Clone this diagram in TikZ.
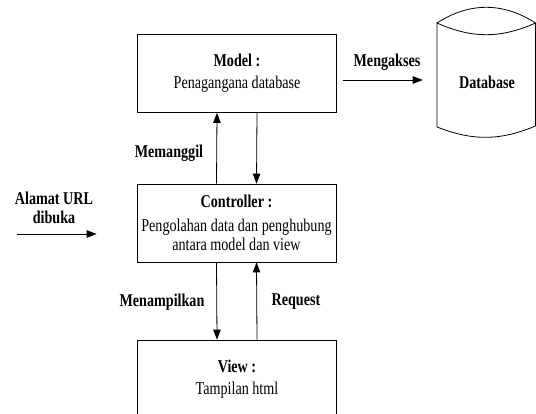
\documentclass[tikz,border=0pt]{standalone}
\usepackage{fontspec}
\setmainfont{Liberation Serif}[FakeStretch=0.785]
\usetikzlibrary{arrows.meta}
\newcommand{\diagfont}{\fontsize{18}{19}\selectfont}

\begin{document}
\begin{tikzpicture}[x=1pt, y=-1pt, line width=0.8pt,
    every node/.style={font=\diagfont, inner sep=0pt},
    box/.style={draw, minimum width=199pt, minimum height=78pt, align=center},
    lbl/.style={font=\diagfont\bfseries, align=center},
    arr/.style={-{Triangle[length=10pt,width=7.5pt]}}]
    \clip (0,0) rectangle (536,414);
    % boxes
    \node[box] (model) at (237,73.5) {\textbf{Model :}\\[3pt]Penagangana database};
    \node[box] (ctrl) at (236.5,223) {\textbf{Controller :}\\[5pt]Pengolahan data dan penghubung\\antara model dan view};
    \node[box] (view) at (237,379) {\textbf{View :}\\[3pt]Tampilan html};
    % database
    \draw (437,23) to[bend left=33] (535.5,23) to[bend left=24] (437,23) -- (437,127)
        to[bend right=22] (535.5,126) -- (535.5,23);
    \node[lbl] (db) at (487,82) {Database};
    % labels
    \node[lbl] (akses) at (387,62) {Mengakses};
    \node[lbl] (panggil) at (169,153) {Memanggil};
    \node[lbl] (url) at (54,208) {Alamat URL\\dibuka};
    \node[lbl] (tampil) at (162,302) {Menampilkan};
    \node[lbl] (req) at (296,302) {Request};
    \coordinate (urlstart) at (17,234);
    % arrows
    \draw[arr] ([shift={(6pt,-6.5pt)}]model.east) -- ([shift={(-36pt,2pt)}]db.west);
    \draw[arr] ([xshift=-20pt]ctrl.north) -- ([xshift=-20pt]model.south);
    \draw[arr] ([xshift=20pt]model.south) -- ([xshift=20pt]ctrl.north);
    \draw[arr] (urlstart) -- ([shift={(-40pt,-11pt)}]ctrl.west);
    \draw[arr] ([xshift=-20pt]ctrl.south) -- ([xshift=-20pt]view.north);
    \draw[arr] ([xshift=20pt]view.north) -- ([xshift=20pt]ctrl.south);
\end{tikzpicture}
\end{document}
